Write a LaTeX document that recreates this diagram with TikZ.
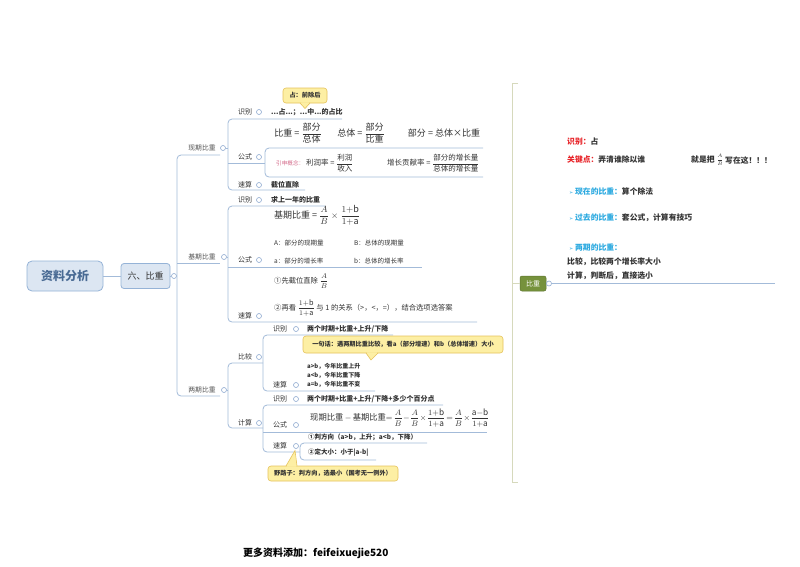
\documentclass[tikz,border=0pt]{standalone}
\usepackage{fontspec}
\setmainfont{Noto Sans CJK SC}
\newfontfamily\djv{DejaVu Sans}
\definecolor{lc}{HTML}{A3BBD9}
\definecolor{dc}{HTML}{8FAAD0}
\definecolor{tc}{HTML}{333333}
\definecolor{mfill}{HTML}{DCE6F2}
\definecolor{mdraw}{HTML}{95B3D7}
\definecolor{mtext}{HTML}{4A6B94}
\definecolor{cf}{HTML}{FDEFA4}
\definecolor{cd}{HTML}{E6C35C}
\definecolor{rred}{HTML}{E8262B}
\definecolor{rblue}{HTML}{2AA9E0}
\definecolor{pinkc}{HTML}{D46A8A}
\definecolor{rbr}{HTML}{D6D9BC}
\definecolor{gfill}{HTML}{76923C}
\newcommand\myfr[2]{$\displaystyle\frac{\mbox{#1}}{\mbox{#2}}$}
\newcommand\opb{\displaystyle\frac{1{+}\mathrm{b}}{1{+}\mathrm{a}}}
\tikzset{
  conn/.style={draw=lc, line width=0.8pt, rounded corners=4pt},
  dot/.style={circle, draw=dc, fill=white, line width=0.6pt, minimum size=5pt, inner sep=0pt},
  mainbox/.style={rectangle, rounded corners=5pt, fill=mfill, draw=mdraw, line width=0.8pt,
     minimum width=76pt, minimum height=30pt, text=mtext, font=\bfseries\fontsize{12}{14}\selectfont},
  subbox/.style={rectangle, rounded corners=3pt, fill=mfill, draw=mdraw, line width=0.8pt,
     minimum width=49pt, minimum height=25pt, text=tc, font=\fontsize{9}{11}\selectfont},
  ltwo/.style={inner sep=0pt, text=tc!85, font=\fontsize{6.8}{8}\selectfont},
  lthree/.style={inner sep=0pt, text=tc, font=\fontsize{7}{8}\selectfont},
  leaf/.style={inner sep=0pt, anchor=west, text=tc, font=\bfseries\fontsize{7}{8}\selectfont},
  leafs/.style={inner sep=0pt, anchor=west, text=tc, font=\bfseries\fontsize{6}{7}\selectfont},
  fnine/.style={inner sep=0pt, text=tc, font=\fontsize{9}{11}\selectfont},
  feight/.style={inner sep=0pt, anchor=west, text=tc, font=\fontsize{7.5}{9}\selectfont},
  fsix/.style={inner sep=0pt, anchor=west, text=tc, font=\fontsize{6.5}{8}\selectfont},
  callout/.style={rectangle, rounded corners=3pt, fill=cf, draw=cd, line width=0.6pt,
     inner sep=0pt, text=tc, font=\bfseries\fontsize{6.2}{7}\selectfont},
  rt/.style={inner sep=0pt, anchor=west, text=tc, font=\bfseries\fontsize{7.8}{9}\selectfont},
  tinyl/.style={inner sep=0pt, text=tc, font=\fontsize{5}{5}\selectfont},
  greenbox/.style={rectangle, rounded corners=2pt, fill=gfill, draw=gfill!80!black, line width=0.5pt,
     minimum width=26pt, minimum height=15pt, inner sep=0pt, text=white, font=\itshape\fontsize{7}{8}\selectfont},
}
\begin{document}
\begin{tikzpicture}[x=1pt,y=-1pt]
\useasboundingbox[fill=white] (0,0) rectangle (800,566);

% ---------- root ----------
\node[mainbox] (root) at (65,276) {资料分析};
\node[subbox] (six) at (145.5,276) {六、比重};
\draw[conn] (root.east) -- (six.west);
\node[dot] (d0) at (174,276) {};
\draw[conn] (six.east) -- (d0);

% main bracket
\draw[conn] (220,155) -- (177,155) -- (177,396) -- (220,396);
\draw[conn] (177,263) -- (220,263);

\node[ltwo] (xq) at (202,148) {现期比重};
\node[dot] (dxq) at (223,148) {};
\node[ltwo] (jq) at (202,257) {基期比重};
\node[dot] (djq) at (224,257) {};
\node[ltwo] (lq) at (202,390) {两期比重};
\node[dot] (dlq) at (224,390) {};

% ---------- 现期比重 ----------
\draw[conn] (dxq) -- (228,148);
\draw[conn] (342,119) -- (228,119) -- (228,190) -- (305,190);
\draw[conn] (228,163) -- (265,163);
\node[lthree] (x1) at (245,112) {识别};
\node[dot] (dx1) at (259,112) {};
\node[leaf] (x1a) at (271,112) {...占...；...中...的占比};
\node[lthree] (x2) at (245,157) {公式};
\node[dot] (dx2) at (259,157) {};
\node[lthree] (x3) at (245,185) {速算};
\node[dot] (dx3) at (259,185) {};
\node[leaf] (x3a) at (271,185) {截位直除};

\draw[conn] (483,148) -- (265,148) -- (265,177) -- (483,177);
\node[fnine] (fa) at (298,133) {比重 = \myfr{部分}{总体}};
\node[fnine] (fb) at (361,133) {总体 = \myfr{部分}{比重}};
\node[fnine] (fc) at (444,133) {部分 = 总体×比重};
\node[inner sep=0pt, anchor=west, text=pinkc, font=\fontsize{5.6}{6}\selectfont] (yc) at (276,163) {引申概念：};
\node[feight] (fd) at (306,163) {利润率 = \myfr{利润}{收入}};
\node[feight] (fe) at (387,163) {增长贡献率 = \myfr{部分的增长量}{总体的增长量}};

% callout 1
\node[callout, minimum width=44pt, minimum height=15pt] (co1) at (305,95.5) {占：前除后};
\filldraw[fill=cf, draw=cd, line width=0.6pt] (300,103) -- (305,108.5) -- (310,103);
\fill[cf] (300.9,102.3) -- (309.1,102.3) -- (305,107) -- cycle;

% ---------- 基期比重 ----------
\draw[conn] (djq) -- (228,257);
\draw[conn] (325,206) -- (228,206) -- (228,322) -- (477,322);
\draw[conn] (228,267) -- (422,267);
\node[lthree] (j1) at (245,200) {识别};
\node[dot] (dj1) at (259,200) {};
\node[leaf] (j1a) at (271,200) {求上一年的比重};
\node[lthree] (j2) at (245,260) {公式};
\node[dot] (dj2) at (259,260) {};
\node[lthree] (j3) at (245,316) {速算};
\node[dot] (dj3) at (259,316) {};

\node[fnine, anchor=west] (jf) at (274,215) {基期比重 = $\displaystyle\frac{A}{B}\times\opb$};
\node[fsix] (ja) at (274,243) {A：部分的现期量};
\node[fsix] (jb) at (354,243) {B：总体的现期量};
\node[fsix] (jc) at (274,261) {a：部分的增长率};
\node[fsix] (jd) at (354,261) {b：总体的增长率};
\node[fsix, font=\fontsize{7.3}{9}\selectfont] (je) at (274,281) {①先截位直除 $\displaystyle\frac{A}{B}$};
\node[fsix, font=\fontsize{7.3}{9}\selectfont] (jg) at (274,308) {②再看 $\opb$ 与 1 的关系（>，<，=），结合选项选答案};

% ---------- 两期比重 ----------
\draw[conn] (dlq) -- (228,390);
\draw[conn] (263,363) -- (228,363) -- (228,428) -- (263,428);
\node[lthree] (l1) at (245,357) {比较};
\node[dot] (dl1) at (259,357) {};
\node[lthree] (l2) at (245,423) {计算};
\node[dot] (dl2) at (259,423) {};

% 比较
\draw[conn] (393,335) -- (263,335) -- (263,391) -- (375,391);
\node[lthree] (b1) at (280,329) {识别};
\node[dot] (db1) at (296,329) {};
\node[leaf] (b1a) at (307,329) {两个时期+比重+上升/下降};
\node[lthree] (b2) at (280,385) {速算};
\node[dot] (db2) at (296,385) {};
\node[leafs] (b2a) at (307,366) {a>b，今年比重上升};
\node[leafs] (b2b) at (307,375) {a<b，今年比重下降};
\node[leafs] (b2c) at (307,384) {a=b，今年比重不变};
\node[callout, minimum width=200pt, minimum height=17pt] (co2) at (403,344.5) {一句话：遇两期比重比较，看a（部分增速）和b（总体增速）大小};
\filldraw[fill=cf, draw=cd, line width=0.6pt] (366,353) -- (371,360) -- (378,353);
\fill[cf] (366.9,352.3) -- (377.1,352.3) -- (371.2,358.5) -- cycle;

% 计算
\draw[conn] (443,405) -- (263,405) -- (263,452) -- (300,452);
\draw[conn] (263,432) -- (487,432);
\node[lthree] (c1) at (280,399) {识别};
\node[dot] (dc1) at (296,399) {};
\node[leaf] (c1a) at (307,399) {两个时期+比重+上升/下降+多少个百分点};
\node[lthree] (c2) at (280,425) {公式};
\node[dot] (dc2) at (296,425) {};
\node[fnine, anchor=west, font=\fontsize{8.3}{10}\selectfont] (cf1) at (310,418) {现期比重\,$-$\,基期比重\,$\!=\!\displaystyle\frac{A}{B}\!-\!\frac{A}{B}\!\times\!\opb\!=\!\frac{A}{B}\!\times\!\frac{\mathrm{a}{-}\mathrm{b}}{1{+}\mathrm{a}}$};
\node[lthree] (c3) at (280,446) {速算};
\node[dot] (dc3) at (296,446) {};
\draw[conn] (427,443) -- (300,443) -- (300,460) -- (376,460);
\node[leaf, font=\bfseries\fontsize{6.5}{8}\selectfont] (c3a) at (308,437) {①判方向（a>b，上升；a<b，下降）};
\node[leaf, font=\bfseries\fontsize{6.5}{8}\selectfont] (c3b) at (308,453) {②定大小：小于|a-b|};

\node[callout, minimum width=130pt, minimum height=15pt] (co3) at (333,473.5) {野路子：判方向，选最小（国考无一例外）};
\filldraw[fill=cf, draw=cd, line width=0.6pt] (286,466) -- (295,450.5) -- (297,466);
\fill[cf] (286.9,466.7) -- (296.2,466.7) -- (295,453) -- cycle;

% ---------- right side ----------
\draw[draw=rbr, line width=0.8pt] (518,83) -- (512,83) -- (512,482) -- (518,482);
\node[greenbox] (bz) at (533,283.5) {比重};
\draw[draw=rbr, line width=0.8pt] (512,283.5) -- (bz.west);
\node[dot] (dbz) at (549,283.5) {};
\draw[draw=lc, line width=0.8pt] (dbz) -- (775,283.5);

\node[rt] (r1) at (567,142) {\textcolor{rred}{识别：}占};
\node[rt] (r2) at (567,160) {\textcolor{rred}{关键点：}弄清谁除以谁};
\node[rt] (r3) at (691,160) {就是把};
\node[tinyl] (fA) at (720,156.2) {$A$};
\node[tinyl] (fB) at (720,164.2) {$B$};
\draw[tc, line width=0.35pt] (718,160.2) -- (722,160.2);
\node[rt] (r3b) at (725,160) {写在这！！！};
\node[rt] (r4) at (569,191) {{\djv\fontsize{5}{6}\selectfont\textcolor{rblue}{➢}} \textcolor{rblue}{现在的比重：}算个除法};
\node[rt] (r5) at (569,218) {{\djv\fontsize{5}{6}\selectfont\textcolor{rblue}{➢}} \textcolor{rblue}{过去的比重：}套公式，计算有技巧};
\node[rt] (r6) at (569,248) {{\djv\fontsize{5}{6}\selectfont\textcolor{rblue}{➢}} \textcolor{rblue}{两期的比重：}};
\node[rt] (r7) at (567,262) {比较，比较两个增长率大小};
\node[rt] (r8) at (567,276) {计算，判断后，直接选小};

% ---------- bottom ----------
\node[inner sep=0pt, anchor=west, text=black, font=\bfseries\fontsize{10}{12}\selectfont] (bt) at (243,553) {更多资料添加：feifeixuejie520};
\end{tikzpicture}
\end{document}
